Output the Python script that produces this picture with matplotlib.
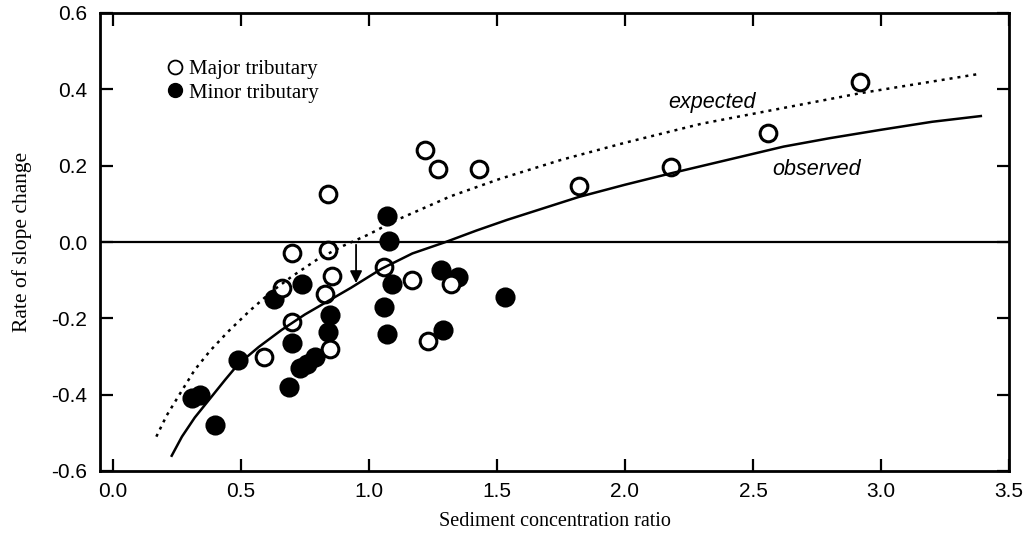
import matplotlib
matplotlib.use("Agg")
import matplotlib.pyplot as plt
from matplotlib.lines import Line2D

# values
major_x = [2.92, 2.56, 2.18, 1.82, 1.43, 1.27, 1.22, 0.84, 0.70, 0.84,
           0.855, 0.83, 0.70, 0.59, 0.85, 1.06, 1.17, 1.32, 1.23, 0.66]
major_y = [0.42, 0.286, 0.197, 0.147, 0.19, 0.19, 0.24, 0.125, -0.03, -0.02,
           -0.09, -0.136, -0.21, -0.30, -0.28, -0.066, -0.10, -0.11, -0.26, -0.12]

minor_x = [1.07, 1.08, 1.09, 1.06, 1.07, 1.28, 1.35, 1.29, 1.53, 0.74, 0.63,
           0.85, 0.84, 0.70, 0.73, 0.76, 0.79, 0.69, 0.49, 0.31, 0.34, 0.40]
minor_y = [0.068, 0.003, -0.11, -0.17, -0.24, -0.073, -0.092, -0.23, -0.145,
           -0.11, -0.15, -0.19, -0.235, -0.265, -0.33, -0.32, -0.30, -0.38,
           -0.31, -0.41, -0.40, -0.48]

# points
expected_x = [0.17, 0.21, 0.26, 0.32, 0.38, 0.45, 0.535, 0.62, 0.70, 0.80,
              0.90, 1.0, 1.10, 1.32, 1.51, 1.75, 2.0, 2.3, 2.61, 2.92, 3.15, 3.38]
expected_y = [-0.51, -0.455, -0.40, -0.335, -0.285, -0.235, -0.18, -0.13,
              -0.09, -0.045, -0.01, 0.02, 0.055, 0.12, 0.165, 0.215, 0.26,
              0.31, 0.35, 0.39, 0.415, 0.44]

observed_x = [0.23, 0.27, 0.32, 0.38, 0.44, 0.49, 0.57, 0.66, 0.75, 0.84,
              0.93, 1.05, 1.17, 1.30, 1.42, 1.54, 1.82, 2.0, 2.18, 2.4, 2.62,
              2.8, 3.0, 3.2, 3.39]
observed_y = [-0.56, -0.51, -0.46, -0.41, -0.36, -0.32, -0.275, -0.23, -0.19,
              -0.155, -0.12, -0.07, -0.03, 0.0, 0.03, 0.058, 0.118, 0.15, 0.18,
              0.215, 0.25, 0.272, 0.294, 0.315, 0.33]

x_ticks = [0.0, 0.5, 1.0, 1.5, 2.0, 2.5, 3.0, 3.5]
y_ticks = [-0.6, -0.4, -0.2, 0.0, 0.2, 0.4, 0.6]

SANS = "Liberation Sans"
SERIF = "Liberation Serif"


def main():
    fig = plt.figure(figsize=(10.35, 5.36), dpi=100)
    ax = fig.add_axes([100 / 1035, 65 / 536, 909 / 1035, 458 / 536])

    ax.axhline(0.0, color="black", lw=1.6, zorder=2)

    ax.plot(minor_x, minor_y, "o", ms=13, mfc="black", mec="black",
            mew=1.5, ls="none", zorder=3)
    ax.plot(major_x, major_y, "o", ms=12, mfc="white", mec="black",
            mew=2.2, ls="none", zorder=4)

    ax.plot(expected_x, expected_y, ls=(0, (1.2, 2.0)), color="black",
            lw=1.8, zorder=5)
    ax.plot(observed_x, observed_y, ls="-", color="black", lw=1.8, zorder=5)

    # arrow from expected to observed at the zero crossing
    ax.annotate("", xy=(0.95, -0.115), xytext=(0.95, 0.0),
                arrowprops=dict(arrowstyle="-|>", color="black", lw=1.3,
                                mutation_scale=18), zorder=6)

    ax.text(2.34, 0.365, "expected", fontsize=15.5, style="italic",
            family=SANS, ha="center", va="center")
    ax.text(2.75, 0.19, "observed", fontsize=15.5, style="italic",
            family=SANS, ha="center", va="center")

    handles = [
        Line2D([], [], marker="o", ls="none", ms=10, mfc="white",
               mec="black", mew=1.3, label="Major tributary"),
        Line2D([], [], marker="o", ls="none", ms=10, mfc="black",
               mec="black", label="Minor tributary"),
    ]
    ax.legend(handles=handles, loc="upper left", bbox_to_anchor=(0.05, 0.94),
              frameon=False, handletextpad=0.2, labelspacing=0.2,
              handlelength=1.0, prop={"family": SERIF, "size": 15})

    ax.set_xlim(-0.05, 3.5)
    ax.set_ylim(-0.6, 0.6)
    ax.set_xticks(x_ticks)
    ax.set_yticks(y_ticks)
    ax.set_xticklabels([f"{t:.1f}" for t in x_ticks], family=SANS, fontsize=15)
    ax.set_yticklabels([f"{t:.1f}" for t in y_ticks], family=SANS, fontsize=15)
    ax.tick_params(direction="in", length=9, width=1.6, top=True, right=True)
    ax.tick_params(axis="x", pad=8)
    ax.tick_params(axis="y", pad=9)
    for sp in ax.spines.values():
        sp.set_linewidth(2.0)

    fig.text(22 / 1035, 1 - 242 / 536, "Rate of slope change", rotation=90,
             ha="center", va="center", family=SERIF, fontsize=15.5)
    fig.text(555 / 1035, 1 - 521 / 536, "Sediment concentration ratio",
             ha="center", va="center", family=SERIF, fontsize=14.5)

    fig.savefig("out.png", dpi=100, facecolor="white")


if __name__ == "__main__":
    main()
